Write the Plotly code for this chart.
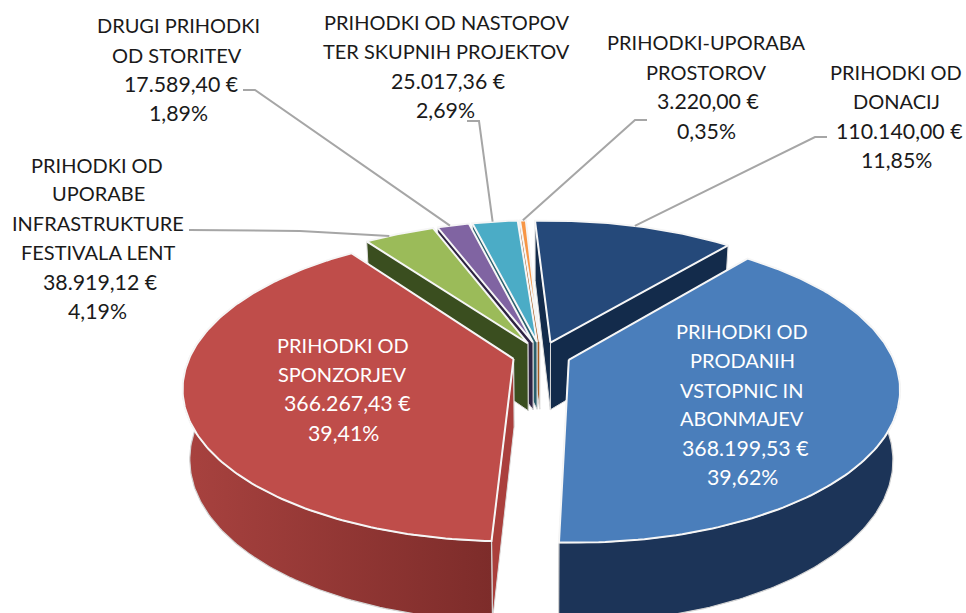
import math
import plotly.graph_objects as go

# ---- data ----
categories = ["PRIHODKI OD DONACIJ", "PRIHODKI OD PRODANIH VSTOPNIC IN ABONMAJEV",
              "PRIHODKI OD SPONZORJEV", "PRIHODKI OD UPORABE INFRASTRUKTURE FESTIVALA LENT",
              "DRUGI PRIHODKI OD STORITEV", "PRIHODKI OD NASTOPOV TER SKUPNIH PROJEKTOV",
              "PRIHODKI-UPORABA PROSTOROV"]
values = [110140.00, 368199.53, 366267.43, 38919.12, 17589.40, 25017.36, 3220.00]
value_labels = ["110.140,00 €", "368.199,53 €", "366.267,43 €", "38.919,12 €",
                "17.589,40 €", "25.017,36 €", "3.220,00 €"]
percent_labels = ["11,85%", "39,62%", "39,41%", "4,19%", "1,89%", "2,69%", "0,35%"]

# ---- style ----
top_colors = ["#25497a", "#4a7ebb", "#bf4d4a", "#9bbb59", "#8064a2", "#4bacc6", "#f79646"]
rim_left = ["#17304f", "#1c3458", "#a8423f", "#3a4e1f", "#33264a", "#2a6d7c", "#a55a1f"]
rim_right = ["#17304f", "#1c3458", "#7d2c2a", "#3a4e1f", "#33264a", "#2a6d7c", "#a55a1f"]
wall_colors = ["#132b4b", "#1c3458", "#aa3f3c", "#3a4e1f", "#2e2342", "#2a5f6c", "#a55a1f"]
draw_order = [0, 6, 5, 4, 3, 2, 1]

X0, Y0, A, B, K = 541.5, 355, 323, 148, 0.18
EXPLODE, DEPTH, BOTTOM_SCALE = 0.09, 68, 0.98
FIRST_ANGLE = math.radians(-3.0)
FRONT_FROM, FRONT_TO = math.radians(70), math.radians(290)

total = sum(values)
fig = go.Figure()


def project(u, v, bottom=False):
    w = 1 / (1 - K * v)
    if bottom:
        return (X0 + BOTTOM_SCALE * A * u * w, Y0 + BOTTOM_SCALE * B * v * w + DEPTH * w)
    return (X0 + A * u * w, Y0 + B * v * w)


def point(theta, r, cu, cv, bottom=False):
    return project(cu + r * math.sin(theta), cv - r * math.cos(theta), bottom)


def poly(pts, fill, line, width, grad=None):
    extra = {}
    if grad:
        extra["fillgradient"] = dict(type="horizontal", colorscale=[[0, grad[0]], [1, grad[1]]])
    fig.add_trace(go.Scatter(
        x=[p[0] for p in pts] + [pts[0][0]], y=[p[1] for p in pts] + [pts[0][1]],
        mode="lines", fill="toself", fillcolor=fill,
        line=dict(color=line, width=width), hoverinfo="skip", showlegend=False, **extra))


slices = []
acc = 0.0
for val in values:
    start = FIRST_ANGLE + acc / total * 2 * math.pi
    acc += val
    end = FIRST_ANGLE + acc / total * 2 * math.pi
    mid = (start + end) / 2
    slices.append((start, end, EXPLODE * math.sin(mid), -EXPLODE * math.cos(mid)))

for i in draw_order:
    s, e, cu, cv = slices[i]
    # radial walls: end edge first so the start edge wall covers it
    for th in (e, s):
        poly([point(th, 0, cu, cv), point(th, 1, cu, cv), point(th, 1, cu, cv, True), point(th, 0, cu, cv, True)],
             wall_colors[i], "#dcdcdc", 1)
    # outer rim, front-facing part only
    fs, fe = max(s, FRONT_FROM), min(e, FRONT_TO)
    if fe > fs:
        n = int((fe - fs) * 60)
        rim = [fs + (fe - fs) * j / n for j in range(n + 1)]
        poly([point(a, 1, cu, cv) for a in rim] + [point(a, 1, cu, cv, True) for a in reversed(rim)],
             rim_right[i], "#d4d4d4", 1.2, grad=(rim_left[i], rim_right[i]))
    n = max(3, int((e - s) * 60))
    angles = [s + (e - s) * j / n for j in range(n + 1)]
    poly([point(0, 0, cu, cv)] + [point(a, 1, cu, cv) for a in angles],
         top_colors[i], "#f6f6f6", 2)

# ---- leaders: elbow start, elbow knee, then fraction along the slice's rim ----
leaders = [(0, (827, 137), (815, 137), 0.50), (3, (189, 230), (300, 231), 0.35),
           (4, (243, 90), (255, 90), 0.40), (5, (467, 121), (479, 121), 0.45),
           (6, (647, 120), (635, 120), 0.50)]
for i, a, b, frac in leaders:
    s, e, cu, cv = slices[i]
    tip = point(s + (e - s) * frac, 1, cu, cv)
    fig.add_trace(go.Scatter(x=[a[0], b[0], tip[0]], y=[a[1], b[1], tip[1]], mode="lines",
                             line=dict(color="#a6a6a6", width=2), hoverinfo="skip", showlegend=False))

# ---- labels, one entry per text line ----
label_blocks = [
    (["PRIHODKI OD", "DONACIJ"], [896, 896, 899, 896], [72, 101, 131, 160], 0, "#1a1a1a"),
    (["PRIHODKI OD", "PRODANIH", "VSTOPNIC IN", "ABONMAJEV"], [742, 742, 742, 742, 745, 742],
     [331, 360, 390, 418, 448, 477], 1, "#ffffff"),
    (["PRIHODKI OD", "SPONZORJEV"], [343, 342, 347, 343], [345, 374, 403, 433], 2, "#ffffff"),
    (["PRIHODKI OD", "UPORABE", "INFRASTRUKTURE", "FESTIVALA LENT"], [97, 98, 98, 98, 100, 97],
     [165, 193, 223, 252, 282, 311], 3, "#1a1a1a"),
    (["DRUGI PRIHODKI", "OD STORITEV"], [178, 177, 181, 178], [25, 55, 84, 113], 4, "#1a1a1a"),
    (["PRIHODKI OD NASTOPOV", "TER SKUPNIH PROJEKTOV"], [446, 446, 448, 445], [22, 51, 81, 110], 5, "#1a1a1a"),
    (["PRIHODKI-UPORABA", "PROSTOROV"], [706, 706, 708, 706], [42, 72, 101, 131], 6, "#1a1a1a"),
]
annotations = []
for lines, xs, ys, idx, color in label_blocks:
    texts = lines + [value_labels[idx], percent_labels[idx]]
    for k, (t, x, y) in enumerate(zip(texts, xs, ys)):
        size = 20 if k < len(lines) else 21.3
        annotations.append(dict(x=x, y=y, text=t, showarrow=False, xanchor="center", yanchor="middle",
                                font=dict(family="Lato", size=size, color=color)))

fig.update_layout(
    width=966, height=613, margin=dict(l=0, r=0, t=0, b=0), autosize=False,
    paper_bgcolor="white", plot_bgcolor="white", showlegend=False, annotations=annotations,
    xaxis=dict(range=[0, 966], visible=False, fixedrange=True),
    yaxis=dict(range=[613, 0], visible=False, fixedrange=True),
)
fig.write_html("out.html", config={"displayModeBar": False},
               post_script="document.body.style.margin='0';document.documentElement.style.overflow='hidden';")
